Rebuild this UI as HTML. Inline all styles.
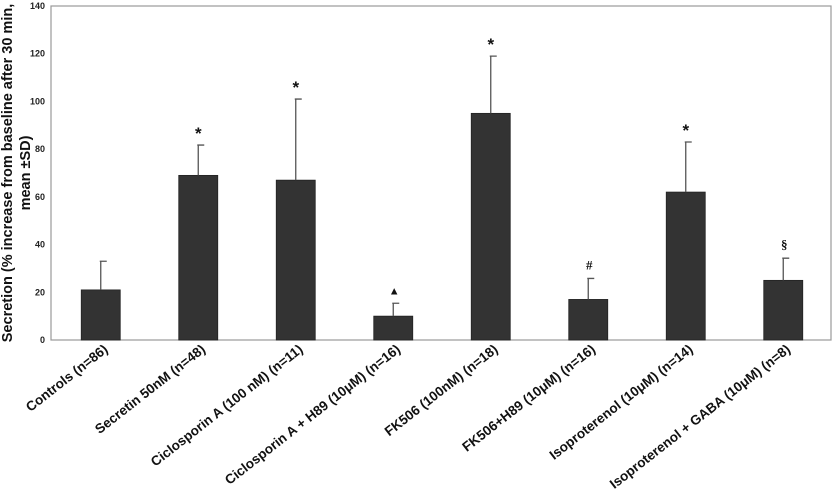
<!DOCTYPE html>
<html><head><meta charset="utf-8"><style>
html,body{margin:0;padding:0;background:#fff;width:833px;height:503px;overflow:hidden}
svg{display:block;font-family:"Liberation Sans",Arial,sans-serif}
</style></head><body>
<svg id="chart" width="833" height="503" viewBox="0 0 833 503">
<rect x="51" y="6" width="780" height="334" fill="none" stroke="#999" stroke-width="1.2"/>
<g id="yticks"></g>
<g id="bars"></g>
<g id="xlabels"></g>
<text transform="translate(14,173) rotate(-90)" text-anchor="middle" font-size="14.5" font-weight="bold" fill="#111"><tspan x="0" dy="-2">Secretion (% increase from baseline after 30 min,</tspan><tspan x="0" dy="18">mean ±SD)</tspan></text>
</svg>
<script>
const categories=["Controls (n=86)","Secretin 50nM (n=48)","Ciclosporin A (100 nM) (n=11)","Ciclosporin A + H89 (10\u03bcM) (n=16)","FK506 (100nM) (n=18)","FK506+H89 (10\u03bcM) (n=16)","Isoproterenol (10\u03bcM) (n=14)","Isoproterenol + GABA (10\u03bcM) (n=8)"];
const means=[21,69,67,10,95,17,62,25];
const sds=[12,12.7,34,5.4,24,8.8,21,9.3];
const marks=["","*","*","\u25b2","*","#","*","\u00a7"];
const yTicks=[0,20,40,60,80,100,120,140];
const NS="http://www.w3.org/2000/svg";
const X0=51,X1=831,Y0=340,Y1=6,YMAX=140;
const y=v=>Y0-(v/YMAX)*(Y0-Y1);
const step=(X1-X0)/categories.length;
const xc=i=>X0+step*(i+0.5)+1;
function mk(t,a,p){const e=document.createElementNS(NS,t);for(const k in a)e.setAttribute(k,a[k]);p.appendChild(e);return e;}
const yt=document.getElementById('yticks');
yTicks.forEach(v=>{const t=mk('text',{x:45,y:y(v)+3,'text-anchor':'end','font-size':9,'font-weight':'bold',fill:'#222'},yt);t.textContent=v;

});
const bg=document.getElementById('bars'),xl=document.getElementById('xlabels');
categories.forEach((c,i)=>{
 const cx=xc(i),bw=39;
 const r=mk('rect',{x:cx-bw/2,y:y(means[i]),width:bw,height:Y0-y(means[i]),fill:'#333',stroke:'#222','stroke-width':0.8},bg);
 
 
 const top=y(means[i]+sds[i]);
 const el=mk('path',{d:`M${cx},${y(means[i])}V${top}M${cx-1},${top}H${cx+6}`,stroke:'#555','stroke-width':1.3,fill:'none'},bg);
 
 
 if(marks[i]){
  const isStar=marks[i]==='*';
  const m=mk('text',{x:cx+(isStar?0:1),y:top-(isStar?6:9),'text-anchor':'middle','font-size':isStar?17:(marks[i]==='\u25b2'?11:13),'font-weight':'bold',fill:'#111','font-family':marks[i]==='\u00a7'||marks[i]==='#'?'Liberation Serif,serif':'Liberation Sans,sans-serif'},bg);
  m.textContent=marks[i];
  
  
 }
 const t=mk('text',{transform:`translate(${cx+8},${351}) rotate(-38)`,'text-anchor':'end','font-size':13.5,'font-weight':'bold',fill:'#111'},xl);
 t.textContent=c;
 
 
});
</script>
</body></html>
